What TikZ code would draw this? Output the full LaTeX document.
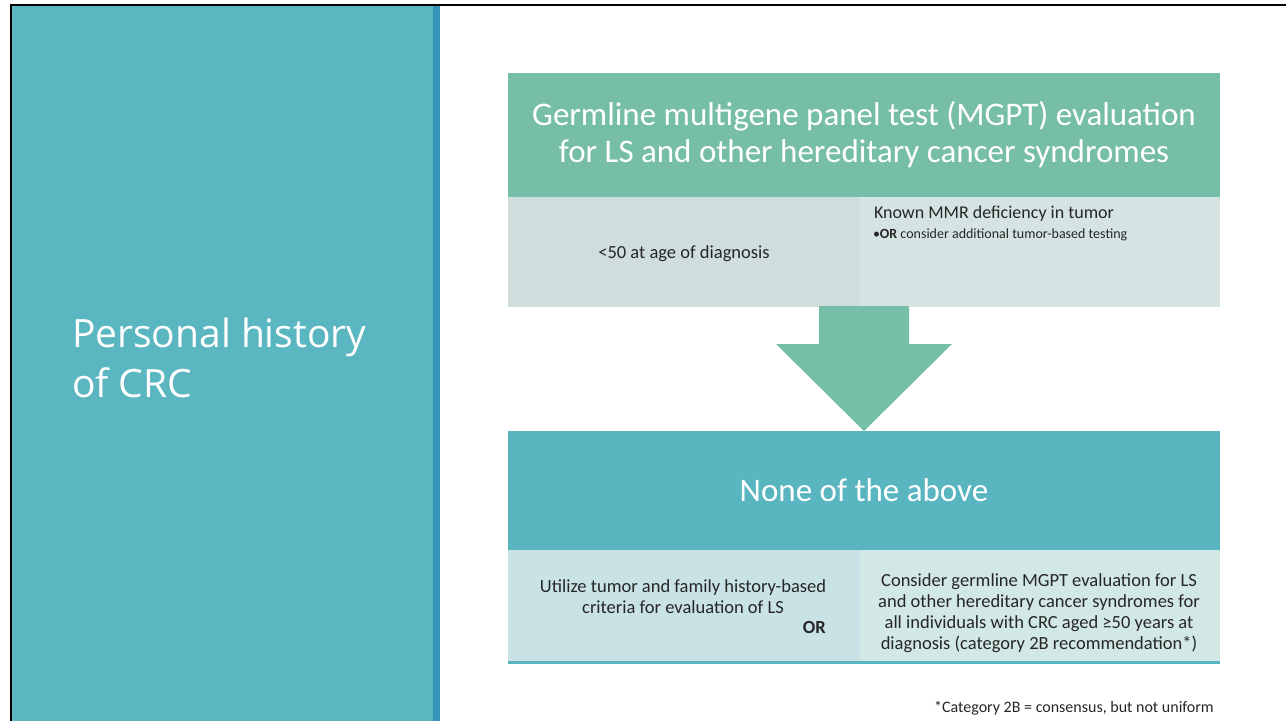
\documentclass[tikz,border=0pt]{standalone}
\usepackage{fontspec}
\setmainfont{Carlito}
\newfontfamily\titlefont{Open Sans}
\usetikzlibrary{positioning, calc}

\definecolor{panelteal}{HTML}{5AB6C0}
\definecolor{stripblue}{HTML}{3893B9}
\definecolor{headgreen}{HTML}{76BEA7}
\definecolor{headteal}{HTML}{59B5BF}
\definecolor{grayleft}{HTML}{CFDDDD}
\definecolor{grayright}{HTML}{D5E3E2}
\definecolor{tealleft}{HTML}{C8E2E6}
\definecolor{tealright}{HTML}{D2E8E5}
\definecolor{bodytext}{HTML}{262626}

\tikzset{
  block/.style={inner sep=0pt, outer sep=0pt, anchor=north west},
  headbox/.style={block, minimum width=712pt, minimum height=124pt, text=white, align=center,
    font=\fontsize{33}{37}\selectfont},
  cellbox/.style={block, minimum width=#1, minimum height=110pt},
  bodyfont/.style 2 args={text=bodytext, font=\fontsize{#1}{#2}\selectfont}
}

\begin{document}
\begin{tikzpicture}[x=1pt, y=-1pt]
\useasboundingbox (0,0) rectangle (1286,721);

% side panel
\node[block, fill=panelteal, minimum width=422pt, minimum height=716pt] (panel) at (11,5) {};
\node[block, fill=stripblue, minimum width=7pt, minimum height=716pt] (strip) at (panel.north east) {};
\node[block, text=white, align=left, font=\titlefont\fontsize{39}{50}\selectfont] (title) at (72,318)
  {Personal history\\of CRC};

% slide frame
\draw[line width=2pt] (panel.south west) -- (panel.north west) -- (1286,5);

% upper block
\node[headbox, fill=headgreen] (mgpt) at (508,73)
  {Germline multigene panel test (MGPT) evaluation\\for LS and other hereditary cancer syndromes};
\node[cellbox=352pt, fill=grayleft] (age) at (mgpt.south west) {};
\node[cellbox=360pt, fill=grayright, right=0pt of age] (mmr) {};
\node[bodyfont={18.5}{22}] (agetxt) at ($(age.center)+(0,2)$) {<50 at age of diagnosis};
\node[block, bodyfont={18}{22}] (mmrtxt) at ($(mmr.north west)+(14,8.5)$) {Known MMR deficiency in tumor};
\node[block, bodyfont={14}{17}] (mmror) at ($(mmr.north west)+(13,31.5)$)
  {•\textbf{OR} consider additional tumor-based testing};

% lower block
\node[headbox, fill=headteal, minimum height=119pt] (none) at (508,431) {None of the above};
\node[cellbox=352pt, fill=tealleft, minimum height=112pt] (utilize) at (none.south west) {};
\node[cellbox=360pt, fill=tealright, minimum height=112pt, right=0pt of utilize] (consider) {};
\draw[headteal, line width=3pt] (utilize.south west) -- (consider.south east);
\node[bodyfont={18.5}{21}, align=center] (utiltxt) at ($(utilize.center)+(-1,-9.5)$)
  {Utilize tumor and family history-based\\criteria for evaluation of LS};
\node[anchor=base east, inner sep=0pt, bodyfont={18.5}{21}] (ortag) at (826,633) {\textbf{OR}};
\node[bodyfont={18.5}{21}, align=center] (consitxt) at ($(consider.center)+(-1,7)$)
  {Consider germline MGPT evaluation for LS\\and other hereditary cancer syndromes for\\
   all individuals with CRC aged ≥50 years at\\diagnosis (category 2B recommendation*)};

% block arrow between the two blocks
\coordinate (tip) at (none.north);
\fill[headgreen] ($(tip)+(-45,-125)$) -- ($(tip)+(45,-125)$) -- ($(tip)+(45,-87)$)
  -- ($(tip)+(88,-87)$) -- (tip) -- ($(tip)+(-88,-87)$) -- ($(tip)+(-45,-87)$) -- cycle;

% footnote
\node[anchor=base east, inner sep=0pt, bodyfont={16}{19}] (note) at (1214,712)
  {*Category 2B = consensus, but not uniform};
\end{tikzpicture}
\end{document}
